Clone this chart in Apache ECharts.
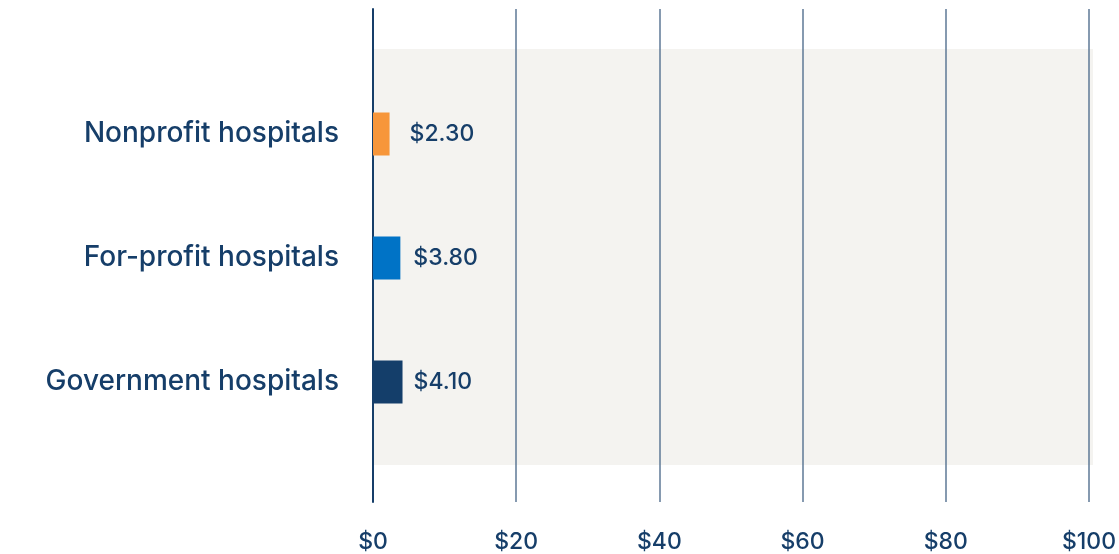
<!DOCTYPE html>
<html>
<head>
<meta charset="utf-8">
<script src="https://cdn.jsdelivr.net/npm/echarts@6/dist/echarts.min.js"></script>
<style>
  html, body { margin: 0; padding: 0; background: #ffffff; }
  #chart { width: 1119px; height: 554px; }
</style>
</head>
<body>
<div id="chart"></div>
<script>
// Hospital categories, top to bottom
const categories = ['Nonprofit hospitals', 'For-profit hospitals', 'Government hospitals'];
// Dollar values per category
const values = [2.30, 3.80, 4.10];
// Bar colours per category
const barColors = ['#f7963a', '#0073c6', '#143e6a'];
// X axis range and tick step
const xMin = 0, xMax = 100, xStep = 20;

const navy = '#163e69';
const fontFamily = 'Inter, "Noto Sans", sans-serif';
// gap between each bar end and its value label
const labelGaps = [20, 13, 11];

const chart = echarts.init(document.getElementById('chart'), null, { renderer: 'canvas' });

const L = 373, R = 26;

chart.setOption({
  animation: false,
  grid: [
    // shaded panel behind the bars
    { left: L, right: R, top: 49, height: 416, show: true, backgroundColor: '#f4f3f0', borderWidth: 0 },
    // vertical gridlines and dollar ticks
    { left: L, right: R, top: 9, height: 493 },
    // bars
    { left: L, right: R, top: 72, height: 372 }
  ],
  xAxis: [
    { gridIndex: 0, type: 'value', min: xMin, max: xMax, show: false },
    {
      gridIndex: 1, type: 'value', min: xMin, max: xMax, interval: xStep,
      axisLine: { show: false }, axisTick: { show: false },
      splitLine: { show: true, lineStyle: { color: '#5e7896', width: 1.5 } },
      axisLabel: {
        margin: 29, color: navy, fontSize: 23, fontFamily: fontFamily, fontWeight: 500,
        formatter: v => '$' + v
      }
    },
    { gridIndex: 2, type: 'value', min: xMin, max: xMax, show: false }
  ],
  yAxis: [
    { gridIndex: 0, type: 'value', show: false },
    {
      gridIndex: 1, type: 'value', min: 0, max: 1,
      axisLine: { show: true, lineStyle: { color: navy, width: 2 } },
      axisTick: { show: false }, axisLabel: { show: false }, splitLine: { show: false }
    },
    {
      gridIndex: 2, type: 'category', data: categories, inverse: true,
      axisLine: { show: false }, axisTick: { show: false },
      axisLabel: { margin: 34, color: navy, fontSize: 28, fontFamily: fontFamily, fontWeight: 500 }
    }
  ],
  series: [
    {
      type: 'bar', xAxisIndex: 2, yAxisIndex: 2, barWidth: 43,
      data: values.map((v, i) => ({
        value: v,
        itemStyle: { color: barColors[i] },
        label: { distance: labelGaps[i] }
      })),
      label: {
        show: true, position: 'right',
        color: navy, fontSize: 23, fontFamily: fontFamily, fontWeight: 500,
        formatter: p => '$' + p.value.toFixed(2)
      }
    }
  ]
});
</script>
</body>
</html>
